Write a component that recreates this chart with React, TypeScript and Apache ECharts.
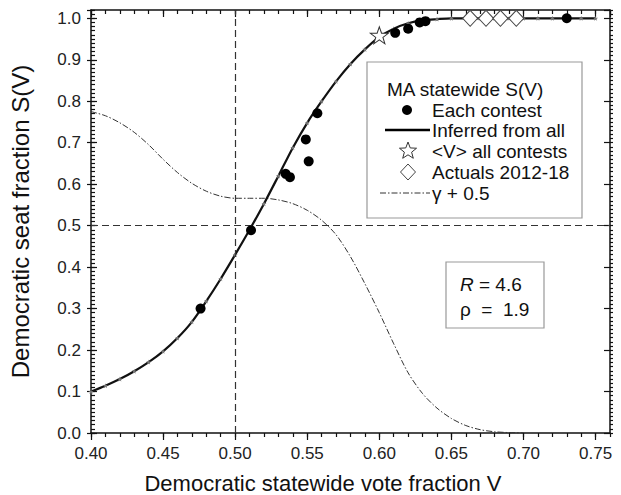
import React, { useEffect, useRef } from "react";
import * as echarts from "echarts";

// S(V) inferred curve
const curveV = [0.40, 0.41, 0.42, 0.43, 0.44, 0.45, 0.46, 0.47, 0.48, 0.49, 0.50, 0.51, 0.52, 0.53, 0.54, 0.55, 0.56, 0.57, 0.58, 0.59, 0.60, 0.61, 0.62, 0.63, 0.64, 0.65, 0.66, 0.67, 0.68, 0.69, 0.70, 0.71, 0.72, 0.73, 0.74, 0.75];
const curveS = [0.100, 0.114, 0.130, 0.149, 0.171, 0.197, 0.229, 0.268, 0.318, 0.372, 0.430, 0.490, 0.553, 0.620, 0.688, 0.748, 0.800, 0.848, 0.890, 0.925, 0.955, 0.975, 0.988, 0.995, 0.998, 1.0, 1.0, 1.0, 1.0, 1.0, 1.0, 1.0, 1.0, 1.0, 1.0, 1.0];

// gamma + 0.5 curve
const gammaV = [0.40, 0.41, 0.42, 0.43, 0.44, 0.45, 0.46, 0.47, 0.48, 0.49, 0.50, 0.51, 0.52, 0.53, 0.54, 0.55, 0.56, 0.57, 0.58, 0.59, 0.60, 0.61, 0.62, 0.63, 0.64, 0.65, 0.66, 0.67, 0.68, 0.69, 0.70];
const gammaS = [0.775, 0.765, 0.748, 0.725, 0.695, 0.660, 0.628, 0.602, 0.583, 0.571, 0.566, 0.566, 0.566, 0.562, 0.553, 0.537, 0.513, 0.478, 0.425, 0.360, 0.290, 0.215, 0.145, 0.095, 0.060, 0.035, 0.018, 0.008, 0.003, 0.001, 0.0];

// each contest
const contestV = [0.476, 0.511, 0.535, 0.538, 0.549, 0.551, 0.557, 0.611, 0.620, 0.628, 0.632, 0.730];
const contestS = [0.300, 0.489, 0.625, 0.617, 0.708, 0.655, 0.771, 0.965, 0.975, 0.990, 0.993, 1.000];

// <V> all contests
const meanV = [0.600];
const meanS = [0.959];

// actuals 2012-18
const actualV = [0.663, 0.674, 0.684, 0.695];
const actualS = [1.0, 1.0, 1.0, 1.0];

const FONT = "Liberation Sans, Arial, sans-serif";
const STAR = "path://M0,-10 L2.35,-3.24 L9.51,-3.09 L3.8,1.24 L5.88,8.09 L0,4 L-5.88,8.09 L-3.8,1.24 L-9.51,-3.09 L-2.35,-3.24 Z";

const zip = (a: number[], b: number[]) => a.map((v, i) => [v, b[i]]);

function starPoints(cx: number, cy: number, R: number, r: number) {
  const pts: number[][] = [];
  for (let i = 0; i < 10; i++) {
    const ang = -Math.PI / 2 + (i * Math.PI) / 5;
    const rad = i % 2 === 0 ? R : r;
    pts.push([cx + rad * Math.cos(ang), cy + rad * Math.sin(ang)]);
  }
  return pts;
}

export default function App() {
  const ref = useRef<HTMLDivElement>(null);
  useEffect(() => {
    if (!ref.current) return;
    const chart = echarts.init(ref.current, null, { renderer: "svg" });
    const axisLine = { show: true, onZero: false, lineStyle: { color: "#111", width: 1.5 } };
    const noLine = { show: false, onZero: false };
    const xBase = { type: "value", min: 0.4, max: 0.76, splitLine: { show: false } };
    const yBase = { type: "value", min: 0, max: 1.02, splitLine: { show: false } };
    const tickStyle = { color: "#111", width: 1.2 };
    const txt = (text: string, x: number, y: number) => ({
      type: "text",
      x,
      y,
      style: { text, fontSize: 19, fontFamily: FONT, fill: "#111", verticalAlign: "middle" },
      z: 101,
    });
    const option: any = {
      animation: false,
      backgroundColor: "#fff",
      grid: { left: 91, right: 11, top: 10, bottom: 62 },
      xAxis: [
        {
          ...xBase,
          position: "bottom",
          interval: 0.05,
          axisLine,
          axisTick: { show: true, inside: false, length: 7, lineStyle: tickStyle },
          axisLabel: {
            formatter: (v: number) => v.toFixed(2),
            fontSize: 17,
            fontFamily: FONT,
            color: "#222",
            margin: 12,
            showMaxLabel: false,
          },
        },
        {
          ...xBase,
          position: "top",
          interval: 0.05,
          axisLine,
          axisTick: { show: true, inside: true, length: 7, lineStyle: tickStyle },
          axisLabel: { show: false },
        },
        {
          ...xBase,
          position: "bottom",
          interval: 0.01,
          axisLine: noLine,
          axisTick: { show: true, inside: false, length: 4, lineStyle: tickStyle },
          axisLabel: { show: false },
        },
        {
          ...xBase,
          position: "top",
          interval: 0.01,
          axisLine: noLine,
          axisTick: { show: true, inside: true, length: 4, lineStyle: tickStyle },
          axisLabel: { show: false },
        },
      ],
      yAxis: [
        {
          ...yBase,
          position: "left",
          interval: 0.1,
          axisLine,
          axisTick: { show: true, inside: true, length: 6, lineStyle: tickStyle },
          axisLabel: {
            formatter: (v: number) => v.toFixed(1),
            fontSize: 17,
            fontFamily: FONT,
            color: "#222",
            margin: 10,
            showMaxLabel: false,
          },
          name: "Democratic seat fraction S(V)",
          nameLocation: "middle",
          nameGap: 59,
          nameTextStyle: { fontSize: 24, fontFamily: FONT, color: "#111" },
        },
        {
          ...yBase,
          position: "right",
          interval: 0.1,
          axisLine,
          axisTick: { show: true, inside: true, length: 6, lineStyle: tickStyle },
          axisLabel: { show: false },
        },
        {
          ...yBase,
          position: "left",
          interval: 0.01,
          axisLine: noLine,
          axisTick: { show: true, inside: true, length: 4, lineStyle: tickStyle },
          axisLabel: { show: false },
        },
        {
          ...yBase,
          position: "right",
          interval: 0.01,
          axisLine: noLine,
          axisTick: { show: true, inside: false, length: 3, lineStyle: tickStyle },
          axisLabel: { show: false },
        },
        {
          ...yBase,
          position: "left",
          interval: 0.1,
          axisLine: noLine,
          axisTick: { show: true, inside: false, length: 4, lineStyle: tickStyle },
          axisLabel: { show: false },
        },
      ],
      series: [
        {
          name: "γ + 0.5",
          type: "line",
          data: zip(gammaV, gammaS),
          showSymbol: false,
          smooth: 0.3,
          lineStyle: { color: "#333", width: 1, type: [6, 2, 1.5, 2] },
          z: 2,
          markLine: {
            silent: true,
            symbol: ["none", "none"],
            label: { show: false },
            lineStyle: { color: "#333", width: 1.2, type: [7, 4] },
            data: [{ xAxis: 0.5 }, { yAxis: 0.5 }],
          },
        },
        {
          name: "Inferred from all",
          type: "line",
          data: zip(curveV, curveS),
          smooth: 0.3,
          showSymbol: true,
          symbol: STAR,
          symbolSize: 5,
          itemStyle: { color: "#777" },
          lineStyle: { color: "#111", width: 2.2 },
          z: 3,
        },
        {
          name: "Each contest",
          type: "scatter",
          data: zip(contestV, contestS),
          symbol: "circle",
          symbolSize: 10,
          itemStyle: { color: "#000", opacity: 1 },
          z: 5,
        },
        {
          name: "<V> all contests",
          type: "scatter",
          data: zip(meanV, meanS),
          symbol: STAR,
          symbolSize: [18, 17],
          itemStyle: { color: "#fff", borderColor: "#333", borderWidth: 1, opacity: 1 },
          z: 6,
        },
        {
          name: "Actuals 2012-18",
          type: "scatter",
          data: zip(actualV, actualS),
          symbol: "diamond",
          symbolSize: [15, 16],
          itemStyle: { color: "#fff", borderColor: "#444", borderWidth: 1, opacity: 1 },
          z: 6,
        },
      ],
      graphic: [
        {
          type: "text",
          x: 323,
          y: 483,
          style: {
            text: "Democratic statewide vote fraction V",
            fontSize: 22,
            fontFamily: FONT,
            fill: "#111",
            align: "center",
            verticalAlign: "middle",
          },
          z: 101,
        },
        {
          type: "rect",
          shape: { x: 367, y: 62, width: 215, height: 156 },
          style: { fill: "#fff", stroke: "#999", lineWidth: 1.2 },
          z: 100,
        },
        txt("MA statewide S(V)", 387, 89),
        { type: "circle", shape: { cx: 407, cy: 110, r: 5 }, style: { fill: "#000" }, z: 101 },
        txt("Each contest", 432, 110),
        { type: "line", shape: { x1: 385, y1: 130, x2: 430, y2: 130 }, style: { stroke: "#000", lineWidth: 2.5 }, z: 101 },
        txt("Inferred from all", 432, 130),
        {
          type: "polygon",
          shape: { points: starPoints(408, 151, 9, 3.8) },
          style: { fill: "#fff", stroke: "#333", lineWidth: 1 },
          z: 101,
        },
        txt("<V> all contests", 432, 151),
        {
          type: "polygon",
          shape: { points: [[408, 164], [415.5, 172], [408, 180], [400.5, 172]] },
          style: { fill: "#fff", stroke: "#444", lineWidth: 1 },
          z: 101,
        },
        txt("Actuals 2012-18", 432, 172),
        {
          type: "line",
          shape: { x1: 380, y1: 193, x2: 430, y2: 193 },
          style: { stroke: "#333", lineWidth: 1, lineDash: [6, 2, 1.5, 2] },
          z: 101,
        },
        txt("γ + 0.5", 432, 193),
        {
          type: "rect",
          shape: { x: 446, y: 262, width: 98, height: 66 },
          style: { fill: "#fff", stroke: "#999", lineWidth: 1.2 },
          z: 100,
        },
        {
          type: "text",
          x: 460,
          y: 284,
          style: {
            text: "{i|R} = 4.6",
            fontSize: 19,
            fontFamily: FONT,
            fill: "#111",
            verticalAlign: "middle",
            rich: { i: { fontStyle: "italic", fontSize: 19, fontFamily: FONT, fill: "#111" } },
          },
          z: 101,
        },
        txt("ρ  =  1.9", 460, 309),
      ],
    };
    chart.setOption(option);
    return () => chart.dispose();
  }, []);
  return (
    <div
      ref={ref}
      style={{ position: "absolute", left: 0, top: 0, width: 621, height: 495, background: "#fff" }}
    />
  );
}
